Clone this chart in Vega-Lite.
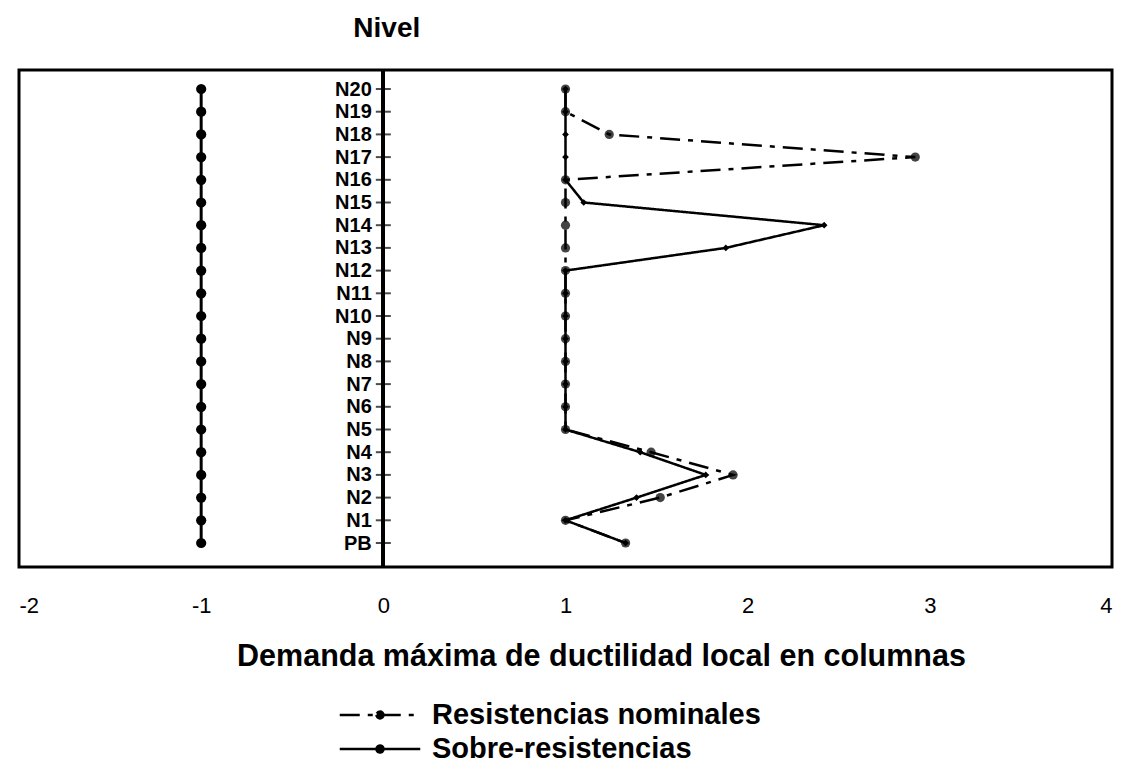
{
  "$schema": "https://vega.github.io/schema/vega-lite/v6.json",
  "width": 1093,
  "height": 497,
  "autosize": {"type": "none"},
  "padding": {"left": 19, "top": 70, "right": 20, "bottom": 199},
  "background": "white",
  "config": {
    "font": "Liberation Sans",
    "view": {"stroke": "black", "strokeWidth": 3}
  },
  "datasets": {
    "niveles": [
      {"nivel": "N20", "valor": -1}, {"nivel": "N19", "valor": -1}, {"nivel": "N18", "valor": -1},
      {"nivel": "N17", "valor": -1}, {"nivel": "N16", "valor": -1}, {"nivel": "N15", "valor": -1},
      {"nivel": "N14", "valor": -1}, {"nivel": "N13", "valor": -1}, {"nivel": "N12", "valor": -1},
      {"nivel": "N11", "valor": -1}, {"nivel": "N10", "valor": -1}, {"nivel": "N9", "valor": -1},
      {"nivel": "N8", "valor": -1}, {"nivel": "N7", "valor": -1}, {"nivel": "N6", "valor": -1},
      {"nivel": "N5", "valor": -1}, {"nivel": "N4", "valor": -1}, {"nivel": "N3", "valor": -1},
      {"nivel": "N2", "valor": -1}, {"nivel": "N1", "valor": -1}, {"nivel": "PB", "valor": -1}
    ],
    "demanda": [
      {"serie": "Resistencias nominales", "nivel": "N20", "valor": 1},
      {"serie": "Resistencias nominales", "nivel": "N19", "valor": 1},
      {"serie": "Resistencias nominales", "nivel": "N18", "valor": 1.24},
      {"serie": "Resistencias nominales", "nivel": "N17", "valor": 2.92},
      {"serie": "Resistencias nominales", "nivel": "N16", "valor": 1},
      {"serie": "Resistencias nominales", "nivel": "N15", "valor": 1},
      {"serie": "Resistencias nominales", "nivel": "N14", "valor": 1},
      {"serie": "Resistencias nominales", "nivel": "N13", "valor": 1},
      {"serie": "Resistencias nominales", "nivel": "N12", "valor": 1},
      {"serie": "Resistencias nominales", "nivel": "N11", "valor": 1},
      {"serie": "Resistencias nominales", "nivel": "N10", "valor": 1},
      {"serie": "Resistencias nominales", "nivel": "N9", "valor": 1},
      {"serie": "Resistencias nominales", "nivel": "N8", "valor": 1},
      {"serie": "Resistencias nominales", "nivel": "N7", "valor": 1},
      {"serie": "Resistencias nominales", "nivel": "N6", "valor": 1},
      {"serie": "Resistencias nominales", "nivel": "N5", "valor": 1},
      {"serie": "Resistencias nominales", "nivel": "N4", "valor": 1.47},
      {"serie": "Resistencias nominales", "nivel": "N3", "valor": 1.92},
      {"serie": "Resistencias nominales", "nivel": "N2", "valor": 1.52},
      {"serie": "Resistencias nominales", "nivel": "N1", "valor": 1},
      {"serie": "Resistencias nominales", "nivel": "PB", "valor": 1.33},
      {"serie": "Sobre-resistencias", "nivel": "N20", "valor": 1},
      {"serie": "Sobre-resistencias", "nivel": "N19", "valor": 1},
      {"serie": "Sobre-resistencias", "nivel": "N18", "valor": 1},
      {"serie": "Sobre-resistencias", "nivel": "N17", "valor": 1},
      {"serie": "Sobre-resistencias", "nivel": "N16", "valor": 1},
      {"serie": "Sobre-resistencias", "nivel": "N15", "valor": 1.1},
      {"serie": "Sobre-resistencias", "nivel": "N14", "valor": 2.42},
      {"serie": "Sobre-resistencias", "nivel": "N13", "valor": 1.88},
      {"serie": "Sobre-resistencias", "nivel": "N12", "valor": 1},
      {"serie": "Sobre-resistencias", "nivel": "N11", "valor": 1},
      {"serie": "Sobre-resistencias", "nivel": "N10", "valor": 1},
      {"serie": "Sobre-resistencias", "nivel": "N9", "valor": 1},
      {"serie": "Sobre-resistencias", "nivel": "N8", "valor": 1},
      {"serie": "Sobre-resistencias", "nivel": "N7", "valor": 1},
      {"serie": "Sobre-resistencias", "nivel": "N6", "valor": 1},
      {"serie": "Sobre-resistencias", "nivel": "N5", "valor": 1},
      {"serie": "Sobre-resistencias", "nivel": "N4", "valor": 1.41},
      {"serie": "Sobre-resistencias", "nivel": "N3", "valor": 1.77},
      {"serie": "Sobre-resistencias", "nivel": "N2", "valor": 1.39},
      {"serie": "Sobre-resistencias", "nivel": "N1", "valor": 1},
      {"serie": "Sobre-resistencias", "nivel": "PB", "valor": 1.33}
    ]
  },
  "encoding": {
    "y": {
      "field": "nivel",
      "type": "ordinal",
      "scale": {
        "type": "point",
        "domain": ["N20","N19","N18","N17","N16","N15","N14","N13","N12","N11","N10","N9","N8","N7","N6","N5","N4","N3","N2","N1","PB"],
        "range": [19, 473],
        "padding": 0
      },
      "axis": {
        "orient": "left",
        "offset": -364.3,
        "domain": false,
        "ticks": false,
        "grid": false,
        "labelPadding": 12,
        "labelFontSize": 20,
        "labelFontWeight": "bold",
        "labelColor": "black",
        "title": "Nivel",
        "titleAngle": 0,
        "titleAlign": "center",
        "titleBaseline": "alphabetic",
        "titleX": 3,
        "titleY": -34,
        "titleFontSize": 28,
        "titleFontWeight": "bold",
        "titleColor": "black"
      }
    }
  },
  "layer": [
    {
      "data": {"name": "niveles"},
      "mark": {"type": "rule", "color": "black", "strokeWidth": 3},
      "encoding": {"x": {"datum": 0, "type": "quantitative"}, "y": null}
    },
    {
      "data": {"name": "niveles"},
      "mark": {"type": "tick", "orient": "horizontal", "color": "black", "size": 15, "thickness": 2},
      "encoding": {
        "x": {
          "datum": 0,
          "type": "quantitative",
          "scale": {"domain": [-2, 4], "nice": false, "zero": false},
          "axis": {
            "values": [-2, -1, 0, 1, 2, 3, 4],
            "labelExpr": "toString(datum.value)",
            "domain": false,
            "ticks": false,
            "grid": false,
            "labelPadding": 28,
            "labelFontSize": 22,
            "labelColor": "black",
            "title": "Demanda máxima de ductilidad local en columnas",
            "titleFontSize": 30.5,
            "titleFontWeight": "bold",
            "titleColor": "black",
            "titleBaseline": "alphabetic",
            "titleX": 582,
            "titleY": 98
          }
        }
      }
    },
    {
      "data": {"name": "niveles"},
      "mark": {"type": "line", "color": "black", "strokeWidth": 3},
      "encoding": {
        "x": {"field": "valor", "type": "quantitative"},
        "order": {"value": null}
      }
    },
    {
      "data": {"name": "niveles"},
      "mark": {"type": "point", "shape": "circle", "filled": true, "color": "black", "size": 105, "opacity": 1},
      "encoding": {"x": {"field": "valor", "type": "quantitative"}}
    },
    {
      "data": {"name": "demanda"},
      "transform": [{"filter": "datum.serie === 'Resistencias nominales'"}],
      "mark": {"type": "point", "shape": "circle", "filled": true, "color": "#444444", "size": 85, "opacity": 1},
      "encoding": {"x": {"field": "valor", "type": "quantitative"}}
    },
    {
      "data": {"name": "demanda"},
      "mark": {"type": "line", "color": "black", "strokeWidth": 2.5},
      "encoding": {
        "x": {"field": "valor", "type": "quantitative"},
        "strokeDash": {
          "field": "serie",
          "type": "nominal",
          "scale": {
            "domain": ["Resistencias nominales", "Sobre-resistencias"],
            "range": [[20, 8, 5, 8], [1, 0]]
          },
          "legend": {
            "orient": "none",
            "legendX": 342,
            "legendY": 626,
            "title": null,
            "symbolType": "M-2.3,0H2.3M-0.2,0a0.2,0.2 0 1,0 0.4,0a0.2,0.2 0 1,0 -0.4,0",
            "symbolSize": 1225,
            "symbolStrokeWidth": 2.5,
            "symbolStrokeColor": "black",
            "labelOffset": 33,
            "labelFontSize": 29,
            "labelFontWeight": "bold",
            "labelColor": "black",
            "labelLimit": 600,
            "rowPadding": 0,
            "encode": {"symbols": {"update": {"fill": {"value": "black"}, "stroke": {"value": "black"}, "strokeWidth": {"value": 2.5}}}}
          }
        },
        "order": {"value": null}
      }
    },
    {
      "data": {"name": "demanda"},
      "transform": [{"filter": "datum.serie === 'Sobre-resistencias'"}],
      "mark": {"type": "point", "shape": "diamond", "filled": true, "color": "black", "size": 45, "opacity": 1},
      "encoding": {"x": {"field": "valor", "type": "quantitative"}}
    }
  ]
}
